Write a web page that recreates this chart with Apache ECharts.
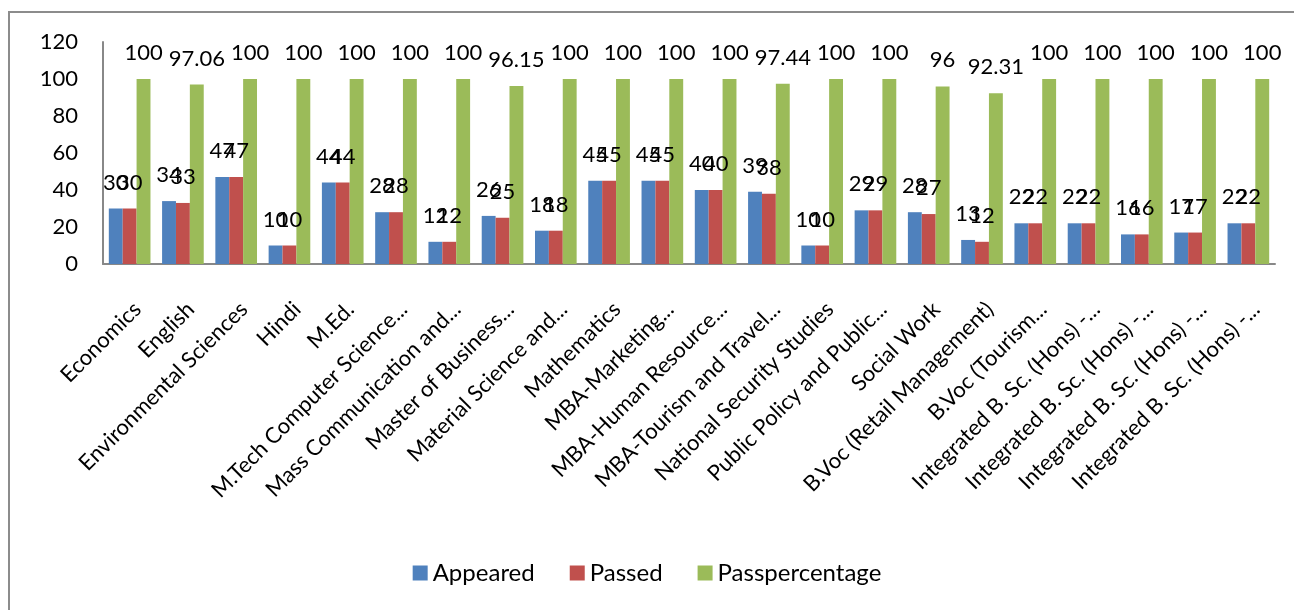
<!DOCTYPE html>
<html>
<head>
<meta charset="utf-8">
<script src="https://cdn.jsdelivr.net/npm/echarts@6/dist/echarts.min.js"></script>
<style>html,body{margin:0;padding:0;background:#fff}#c{width:1294px;height:610px}</style>
</head>
<body>
<div id="c"></div>
<script>
const categories = ["Economics","English","Environmental Sciences","Hindi","M.Ed.","M.Tech Computer Science...","Mass Communication and...","Master of Business...","Material Science and...","Mathematics","MBA-Marketing...","MBA-Human Resource...","MBA-Tourism and Travel...","National Security Studies","Public Policy and Public...","Social Work","B.Voc (Retail Management)","B.Voc (Tourism...","Integrated B. Sc. (Hons) -...","Integrated B. Sc. (Hons) -...","Integrated B. Sc. (Hons) -...","Integrated B. Sc. (Hons) -..."];
const appeared = [30,34,47,10,44,28,12,26,18,45,45,40,39,10,29,28,13,22,22,16,17,22];
const passed = [30,33,47,10,44,28,12,25,18,45,45,40,38,10,29,27,12,22,22,16,17,22];
const passPercentage = [100,97.06,100,100,100,100,100,96.15,100,100,100,100,97.44,100,100,96,92.31,100,100,100,100,100];
const seriesNames = ["Appeared","Passed","Passpercentage"];
const colors = ["#4F81BD","#C0504D","#9BBB59"];
const FONT = "Lato";

const chart = echarts.init(document.getElementById('c'), null, {renderer:'canvas'});
function mk(name, data, color){
  return {
    name, type:'bar', data, barGap:'0%', barCategoryGap:'21.8%',
    itemStyle:{color},
    label:{show:true, position:'top', distance:15, color:'#000', fontFamily:FONT, fontSize:22},
    labelLayout:{hideOverlap:false}
  };
}
chart.setOption({
  animation:false,
  textStyle:{fontFamily:FONT},
  graphic:[{type:'rect', shape:{x:9,y:12,width:1300,height:620}, style:{fill:'none', stroke:'#8c8c8c', lineWidth:2}, silent:true}],
  grid:{left:103, right:19, top:42, bottom:346, containLabel:false},
  legend:{
    data:seriesNames, bottom:20, left:'center', icon:'rect', itemWidth:15, itemHeight:15, itemGap:35,
    textStyle:{fontFamily:FONT, fontSize:24, color:'#000'}
  },
  xAxis:{
    type:'category', data:categories,
    axisLine:{lineStyle:{color:'#888', width:2}},
    axisTick:{show:false},
    axisLabel:{interval:0, rotate:45, margin:34, verticalAlign:'top', color:'#000', fontFamily:FONT, fontSize:22}
  },
  yAxis:{
    type:'value', min:0, max:120, interval:20,
    axisLine:{show:true, lineStyle:{color:'#888', width:2}},
    axisTick:{show:false},
    splitLine:{show:false},
    axisLabel:{margin:25, color:'#000', fontFamily:FONT, fontSize:22}
  },
  series:[mk(seriesNames[0], appeared, colors[0]), mk(seriesNames[1], passed, colors[1]), mk(seriesNames[2], passPercentage, colors[2])]
});
</script>
</body>
</html>
